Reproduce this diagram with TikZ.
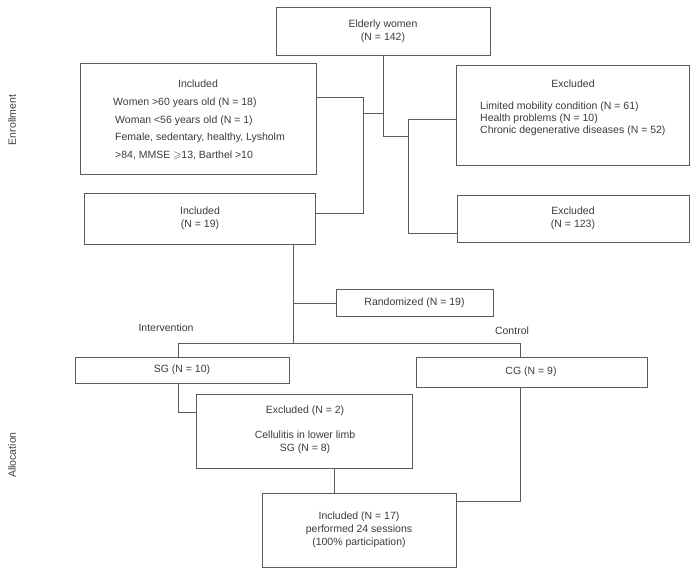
\documentclass[tikz,border=0pt]{standalone}
\usepackage{amssymb}
\usepackage{fontspec}
\setmainfont{Liberation Sans}
\definecolor{txt}{HTML}{3A3A3A}
\definecolor{ln}{HTML}{5A5A5A}
\begin{document}
\begin{tikzpicture}[x=1pt,y=-1pt,
  box/.style={draw=ln,line width=0.8pt,inner sep=0pt},
  lbl/.style={text=txt,font=\fontsize{10.5}{12.8}\selectfont,inner sep=0pt,align=center},
  lbll/.style={text=txt,font=\fontsize{10.5}{12.8}\selectfont,inner sep=0pt,anchor=west},
  conn/.style={draw=ln,line width=0.8pt}]
\useasboundingbox (0,0) rectangle (694,569);
% boxes
\node[box,minimum width=214pt,minimum height=48pt] (top) at (383,31) {};
\node[box,minimum width=236pt,minimum height=111pt] (inc1) at (198,118.5) {};
\node[box,minimum width=233pt,minimum height=100pt] (ex1) at (572.5,115) {};
\node[box,minimum width=231pt,minimum height=51pt] (inc2) at (199.5,218.5) {};
\node[box,minimum width=232pt,minimum height=47pt] (ex2) at (573,218.5) {};
\node[box,minimum width=157pt,minimum height=27pt] (rand) at (414.5,302.5) {};
\node[box,minimum width=214pt,minimum height=26pt] (sg) at (182,370) {};
\node[box,minimum width=231pt,minimum height=30pt] (cg) at (531.5,372) {};
\node[box,minimum width=216pt,minimum height=74pt] (ex3) at (304,431) {};
\node[box,minimum width=194pt,minimum height=74pt] (inc3) at (359,530) {};
% texts
\node[lbl] (t1) at (383,31.5) {Elderly women\\(N = 142)};
\node[lbl] (t2a) at (198,84) {Included};
\node[lbll] (t2b) at (113,103) {Women >60 years old (N = 18)};
\node[lbll] (t2c) at (115,121) {Woman <56 years old (N = 1)};
\node[lbll] (t2d) at (115,138) {Female, sedentary, healthy, Lysholm};
\node[lbll] (t2e) at (115,155) {>84, MMSE $\geqslant$13, Barthel >10};
\node[lbl] (t3a) at (573,84) {Excluded};
\node[lbll] (t3b) at (480,107) {Limited mobility condition (N = 61)};
\node[lbll] (t3c) at (480,119) {Health problems (N = 10)};
\node[lbll] (t3d) at (480,131) {Chronic degenerative diseases (N = 52)};
\node[lbl] (t4) at (200,218.5) {Included\\(N = 19)};
\node[lbl] (t5) at (573,218.5) {Excluded\\(N = 123)};
\node[lbl] (t6) at (414.5,302.5) {Randomized (N = 19)};
\node[lbl] (t7) at (166,328) {Intervention};
\node[lbl] (t8) at (512,331) {Control};
\node[lbl] (t9) at (182,370) {SG (N = 10)};
\node[lbl] (t10) at (531,372) {CG (N = 9)};
\node[lbl] (t11a) at (305,411) {Excluded (N = 2)};
\node[lbl] (t11b) at (305,442) {Cellulitis in lower limb\\SG (N = 8)};
\node[lbl] (t12) at (359,530) {Included (N = 17)\\performed 24 sessions\\(100\% participation)};
\node[lbl,rotate=90] (e1) at (12,120) {Enrollment};
\node[lbl,rotate=90] (e2) at (12,455) {Allocation};
% connectors
\coordinate (jA) at (383,136);
\coordinate (jB) at (408,136);
\coordinate (jC) at (408,119);
\coordinate (jD) at (408,233);
\draw[conn] (top.south) -- (jA) -- (jB);
\draw[conn] (ex1.west |- jC) -- (jC) -- (jD) -- (ex2.west |- jD);
\coordinate (jE) at (363,97);
\coordinate (jF) at (363,213);
\coordinate (jG) at (363,113);
\draw[conn] (inc1.east |- jE) -- (jE) -- (jF) -- (inc2.east |- jF);
\draw[conn] (jG) -- (jG -| top.south);
\coordinate (jH) at (293,343);
\coordinate (jI) at (293,303);
\coordinate (jJ) at (178,343);
\coordinate (jK) at (520,343);
\draw[conn] (inc2.south -| jH) -- (jH);
\draw[conn] (jI) -- (rand.west |- jI);
\draw[conn] (sg.north -| jJ) -- (jJ) -- (jK) -- (cg.north -| jK);
\coordinate (jL) at (178,412);
\draw[conn] (sg.south -| jL) -- (jL) -- (ex3.west |- jL);
\coordinate (jM) at (334,468);
\draw[conn] (ex3.south -| jM) -- (inc3.north -| jM);
\coordinate (jN) at (520,501);
\draw[conn] (inc3.east |- jN) -- (jN) -- (cg.south -| jN);
\end{tikzpicture}
\end{document}
